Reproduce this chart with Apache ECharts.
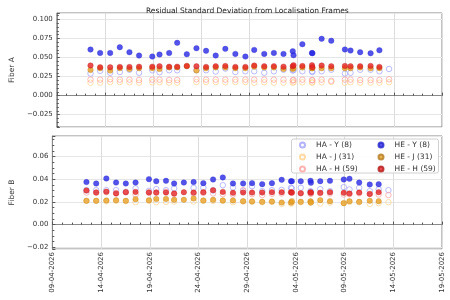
<!DOCTYPE html>
<html>
<head>
<meta charset="utf-8">
<script src="https://cdn.jsdelivr.net/npm/echarts@6/dist/echarts.min.js"></script>
<style>
  html, body { margin: 0; padding: 0; background: #fff; }
  #chart { width: 450px; height: 300px; }
</style>
</head>
<body>
<div id="chart"></div>
<script>
// observation times (UTC)
const dates = [
  '2026-04-12 12:00', '2026-04-13 12:00', '2026-04-14 13:00', '2026-04-15 13:00',
  '2026-04-16 13:00', '2026-04-17 13:00', '2026-04-18 22:00', '2026-04-19 16:00',
  '2026-04-20 16:00', '2026-04-21 12:00', '2026-04-22 12:00', '2026-04-23 12:00',
  '2026-04-24 12:00', '2026-04-25 12:00', '2026-04-26 12:00', '2026-04-27 13:00',
  '2026-04-28 14:00', '2026-04-29 12:00', '2026-04-30 13:00', '2026-05-01 13:00',
  '2026-05-02 13:00', '2026-05-03 12:00', '2026-05-03 14:00', '2026-05-04 12:00',
  '2026-05-05 12:00', '2026-05-05 13:00', '2026-05-06 12:00', '2026-05-07 12:00',
  '2026-05-08 22:00', '2026-05-09 12:00', '2026-05-10 12:00', '2026-05-11 14:00',
  '2026-05-12 12:00', '2026-05-13 12:00'
]
const seriesNames = ['HA - Y (8)', 'HA - J (31)', 'HA - H (59)', 'HE - Y (8)', 'HE - J (31)', 'HE - H (59)']

// Fiber A
const aHAY = [0.029, 0.0325, 0.030, 0.031, 0.034, 0.030, 0.0333, 0.0307, 0.0333, 0.0333, null, 0.0335, 0.0333, 0.0316, 0.0355, 0.031, 0.032, 0.032, 0.030, 0.032, 0.034, 0.033, 0.0335, 0.032, 0.032, 0.031, 0.032, 0.034, 0.029, 0.030, 0.034, 0.034, 0.032, 0.035]
const aHAJ = [0.017, 0.017, 0.0178, 0.0178, 0.0175, 0.017, 0.0175, 0.0175, 0.017, 0.017, null, 0.0178, 0.0178, 0.0178, 0.0175, 0.0178, 0.0178, 0.017, 0.0175, 0.017, 0.017, 0.017, 0.0175, 0.0175, 0.017, 0.0175, 0.0175, 0.018, 0.017, 0.0175, 0.017, 0.017, 0.017, 0.0175]
const aHAH = [0.021, 0.021, 0.0215, 0.021, 0.021, 0.0205, 0.021, 0.021, 0.0205, 0.0205, null, 0.0215, 0.021, 0.021, 0.021, 0.021, 0.021, 0.021, 0.021, 0.021, 0.021, 0.020, 0.0205, 0.021, 0.0205, 0.020, 0.021, 0.0195, 0.021, 0.021, 0.0205, 0.0205, 0.0205, 0.0215]
const aHEY = [0.0605, 0.056, 0.056, 0.0636, 0.057, 0.0526, 0.0513, 0.054, 0.056, 0.0693, 0.0544, 0.0623, 0.0588, 0.0526, 0.0614, 0.0548, 0.0513, 0.060, 0.0548, 0.056, 0.0548, 0.0583, 0.053, 0.0675, 0.056, 0.0557, 0.0746, 0.072, 0.0605, 0.0592, 0.057, 0.0557, 0.0596, null]
const aHEJ = [0.0338, 0.036, 0.033, 0.036, 0.035, 0.036, 0.036, 0.035, 0.037, 0.037, 0.0385, 0.033, 0.036, 0.037, 0.037, 0.036, 0.036, 0.038, 0.037, 0.037, 0.035, 0.035, 0.036, 0.037, 0.036, 0.036, 0.036, 0.036, 0.036, 0.036, 0.037, 0.036, 0.036, null]
const aHEH = [0.0395, 0.0373, 0.0373, 0.0377, 0.0377, 0.038, 0.038, 0.0386, 0.038, 0.038, 0.039, 0.0386, 0.0377, 0.0386, 0.039, 0.0377, 0.0377, 0.0395, 0.0386, 0.0386, 0.038, 0.0386, 0.040, 0.039, 0.040, 0.0373, 0.0395, 0.0386, 0.039, 0.0386, 0.0386, 0.039, 0.0377, null]

// Fiber B
const bHAY = [0.0303, 0.0303, 0.0303, 0.0303, 0.0288, 0.0318, 0.0297, 0.0312, 0.0303, 0.0318, null, 0.0324, 0.0324, 0.030, 0.0347, 0.0326, 0.0297, 0.0338, 0.0294, 0.0303, 0.0306, 0.0324, 0.0318, 0.0324, 0.0294, 0.029, 0.0312, 0.0294, 0.033, 0.031, 0.0324, 0.0294, 0.031, 0.0303]
const bHAJ = [0.0209, 0.0209, 0.0206, 0.0209, 0.0206, 0.0197, 0.0209, 0.0197, 0.020, 0.0203, null, 0.0203, 0.0209, 0.0209, 0.0209, 0.0197, 0.0203, 0.0203, 0.0197, 0.020, 0.0182, 0.0185, 0.0191, 0.0197, 0.0194, 0.0197, 0.0185, 0.0194, 0.0191, 0.020, 0.0197, 0.0182, 0.0188, 0.0197]
const bHAH = [0.0282, 0.0282, 0.0285, 0.0279, 0.0285, 0.0265, 0.0282, 0.0282, 0.0288, 0.0271, null, 0.0274, 0.0279, 0.0274, 0.0268, 0.0265, 0.0303, 0.0268, 0.026, 0.0271, 0.0274, 0.0282, 0.0279, 0.0276, 0.0274, 0.0271, 0.0276, 0.0274, 0.0265, 0.0268, 0.0276, 0.0268, 0.0265, 0.026]
const bHEY = [0.0374, 0.0362, 0.0406, 0.037, 0.0362, 0.037, 0.040, 0.0382, 0.0385, 0.0362, 0.037, 0.0374, 0.0365, 0.0397, 0.0415, 0.0362, 0.0362, 0.0365, 0.0356, 0.0365, 0.0394, 0.0382, 0.0382, 0.0382, 0.0385, 0.0368, 0.0382, 0.0385, 0.0397, 0.0403, 0.037, 0.0353, 0.0356, null]
const bHEJ = [0.0209, 0.0209, 0.0212, 0.0215, 0.0209, 0.0224, 0.0215, 0.0226, 0.0226, 0.0218, 0.0218, 0.023, 0.0212, 0.0218, 0.0212, 0.0212, 0.0206, 0.0203, 0.020, 0.0203, 0.0194, 0.0194, 0.0206, 0.020, 0.0206, 0.0194, 0.0215, 0.0206, 0.0188, 0.0206, 0.020, 0.0209, 0.0206, null]
const bHEH = [0.030, 0.0282, 0.029, 0.0274, 0.0285, 0.0288, 0.0282, 0.0282, 0.0282, 0.0274, 0.0285, 0.0282, 0.0285, 0.0303, 0.0288, 0.028, 0.0282, 0.0282, 0.0282, 0.0285, 0.0285, 0.0285, 0.0282, 0.0276, 0.0285, 0.028, 0.028, 0.0285, 0.028, 0.0274, 0.0282, 0.027, 0.0285, null]

// x axis runs in days from 09-04-2026
const BASE = Date.UTC(2026, 3, 9)
const DAY = 86400000
const dayOf = s => (Date.parse(s.replace(' ', 'T') + ':00Z') - BASE) / DAY
const pad = n => (n < 10 ? '0' : '') + n
const fmtDate = v => {
  const d = new Date(BASE + Math.round(v) * DAY)
  return pad(d.getUTCDate()) + '-' + pad(d.getUTCMonth() + 1) + '-' + d.getUTCFullYear()
}
const minus = s => s.replace('-', '\u2212')
const FONT = 'DejaVu Sans'

const chart = echarts.init(document.getElementById('chart'), null, { renderer: 'canvas' })

const styles = [
  { open: true, color: '#a0a0ff' },
  { open: true, color: '#ffd28c' },
  { open: true, color: '#ffa0a0' },
  { open: false, color: '#2828e6', border: '#2424c8' },
  { open: false, color: '#eaa020', border: '#b07a24' },
  { open: false, color: '#e62222', border: '#b01a1a' }
]

function makeSeries (values, idx, grid) {
  const st = styles[idx]
  const data = []
  values.forEach((v, i) => {
    if (v !== null) data.push([dayOf(dates[i]), v])
  })
  return {
    name: seriesNames[idx],
    type: 'scatter',
    xAxisIndex: grid,
    yAxisIndex: grid,
    symbol: 'circle',
    symbolSize: st.open ? 5.5 : 5.5,
    data: data,
    itemStyle: st.open
      ? { color: 'rgba(255,255,255,0)', borderColor: st.color, borderWidth: 0.9 }
      : { color: st.color, borderColor: st.border, borderWidth: 0.4 },
    z: 2 + idx * 0.1
  }
}

function xAxis (grid, labels) {
  return {
    type: 'value',
    gridIndex: grid,
    min: 0,
    max: 40,
    interval: 5,
    axisLine: { show: true, lineStyle: { color: '#888', width: 1 } },
    axisTick: { show: true, inside: true, length: 3, lineStyle: { color: '#555' } },
    minorTick: { show: true, splitNumber: 5, length: 2, lineStyle: { color: '#555' } },
    splitLine: { show: true, lineStyle: { color: '#dcdcdc', width: 1 } },
    axisLabel: {
      show: labels,
      rotate: 90,
      margin: 3,
      fontFamily: FONT,
      fontSize: 7,
      color: '#333',
      formatter: fmtDate
    }
  }
}

function yAxis (grid, min, max, step, minorSplit, digits, name, gap) {
  return {
    type: 'value',
    gridIndex: grid,
    min: min,
    max: max,
    minInterval: step,
    maxInterval: step,
    name: name,
    nameLocation: 'middle',
    nameRotate: 90,
    nameGap: gap,
    nameTextStyle: { fontFamily: FONT, fontSize: 7.5, color: '#333' },
    axisLine: { show: true, lineStyle: { color: '#888', width: 1 } },
    axisTick: { show: true, inside: true, length: 3, lineStyle: { color: '#555' } },
    minorTick: { show: true, splitNumber: minorSplit, length: 2, lineStyle: { color: '#555' } },
    splitLine: { show: true, lineStyle: { color: '#e6e6e6', width: 1 } },
    axisLabel: {
      fontFamily: FONT,
      fontSize: 7,
      color: '#333',
      margin: 4,
      showMinLabel: false,
      showMaxLabel: false,
      formatter: v => minus(v.toFixed(digits))
    }
  }
}

const seriesA = [aHAY, aHAJ, aHAH, aHEY, aHEJ, aHEH].map((v, i) => makeSeries(v, i, 0))
const seriesB = [bHAY, bHAJ, bHAH, bHEY, bHEJ, bHEH].map((v, i) => makeSeries(v, i, 1))

const legendBase = {
  orient: 'vertical',
  top: 141,
  itemWidth: 5,
  itemHeight: 5,
  itemGap: 4,
  padding: 0,
  icon: 'circle',
  textStyle: { fontFamily: FONT, fontSize: 7.5, color: '#333', padding: [0, 0, 0, 6] },
  z: 6
}

const option = {
  animation: false,
  backgroundColor: '#fff',
  title: {
    text: 'Residual Standard Deviation from Localisation Frames',
    left: 141,
    top: 2,
    textStyle: { fontFamily: FONT, fontSize: 7.5, fontWeight: 'normal', color: '#222' }
  },
  grid: [
    { left: 45, top: 13, width: 397, height: 114, show: true, borderColor: '#888', borderWidth: 1, backgroundColor: '#fff' },
    { left: 45, top: 136, width: 397, height: 113, show: true, borderColor: '#888', borderWidth: 1, backgroundColor: '#fff' }
  ],
  xAxis: [xAxis(0, false), xAxis(1, true)],
  yAxis: [
    yAxis(0, -0.0412, 0.1085, 0.025, 5, 3, 'Fiber A', 38),
    yAxis(1, -0.0215, 0.078, 0.02, 4, 2, 'Fiber B', 31)
  ],
  legend: [
    Object.assign({}, legendBase, { left: 299, data: seriesNames.slice(0, 3) }),
    Object.assign({}, legendBase, { left: 377.5, data: seriesNames.slice(3) })
  ],
  graphic: [{
    type: 'rect',
    z: 5,
    shape: { x: 291.5, y: 139, width: 147, height: 34, r: 2 },
    style: { fill: 'rgba(255,255,255,0.85)', stroke: '#d0d0d0', lineWidth: 1 }
  }],
  series: seriesA.concat(seriesB)
}

chart.setOption(option)
</script>
</body>
</html>
